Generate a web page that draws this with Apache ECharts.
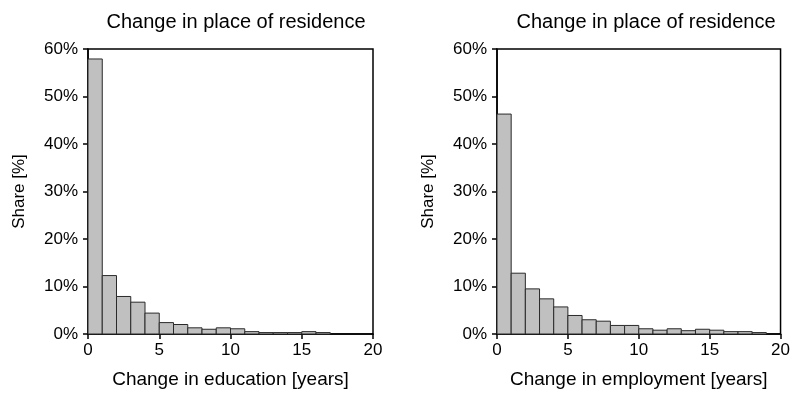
<!DOCTYPE html>
<html>
<head>
<meta charset="utf-8">
<script src="https://cdn.jsdelivr.net/npm/echarts@6/dist/echarts.min.js"></script>
<style>
  html, body { margin: 0; padding: 0; background: #fff; }
  #chart { width: 793px; height: 394px; }
</style>
</head>
<body>
<div id="chart"></div>
<script>
  // share [%] per one-year bin, starting at 0
  var educationShare = [57.9, 12.3, 7.9, 6.7, 4.4, 2.4, 2.0, 1.3, 1.0, 1.3,
    1.1, 0.5, 0.3, 0.3, 0.3, 0.5, 0.3]
  var employmentShare = [46.3, 12.8, 9.5, 7.4, 5.7, 3.9, 3.0, 2.7, 1.8, 1.8,
    1.1, 0.8, 1.1, 0.7, 1.0, 0.8, 0.5, 0.5, 0.3]
  var titles = ['Change in place of residence', 'Change in place of residence']
  var xNames = ['Change in education [years]', 'Change in employment [years]']
  var yName = 'Share [%]'

  var font = 'Liberation Sans, Arial, Helvetica, sans-serif'

  function toBins(values) {
    return values.map(function (v, i) { return [i, i + 1, v] })
  }

  function renderBar(params, api) {
    var p0 = api.coord([api.value(0), api.value(2)])
    var p1 = api.coord([api.value(1), 0])
    return {
      type: 'rect',
      shape: { x: p0[0], y: p0[1], width: p1[0] - p0[0], height: p1[1] - p0[1] },
      style: { fill: '#c0c0c0', stroke: '#2a2a2a', lineWidth: 1 }
    }
  }

  function xAxis(idx) {
    return {
      type: 'value', gridIndex: idx, min: 0, max: 20, interval: 5,
      name: xNames[idx], nameLocation: 'middle', nameGap: 36,
      nameTextStyle: { fontSize: 19, color: '#000', fontFamily: font },
      axisLine: { show: true, lineStyle: { color: '#000', width: 1.5 } },
      axisTick: { show: true, length: 5, lineStyle: { color: '#000', width: 1.5 } },
      axisLabel: { fontSize: 17, color: '#000', margin: 8, fontFamily: font },
      splitLine: { show: false }
    }
  }

  function yAxis(idx) {
    return {
      type: 'value', gridIndex: idx, min: 0, max: 60, interval: 10,
      name: yName, nameLocation: 'middle', nameGap: 60,
      nameTextStyle: { fontSize: 17, color: '#000', fontFamily: font },
      axisLine: { show: true, lineStyle: { color: '#000', width: 1.5 } },
      axisTick: { show: true, length: 5, lineStyle: { color: '#000', width: 1.5 } },
      axisLabel: { fontSize: 17, color: '#000', margin: 10, fontFamily: font, formatter: '{value}%' },
      splitLine: { show: false }
    }
  }

  var chart = echarts.init(document.getElementById('chart'))
  chart.setOption({
    animation: false,
    backgroundColor: '#fff',
    title: [
      { text: titles[0], left: 231, top: 7, textAlign: 'center',
        textStyle: { fontSize: 20, fontWeight: 'normal', color: '#000', fontFamily: font } },
      { text: titles[1], left: 641, top: 7, textAlign: 'center',
        textStyle: { fontSize: 20, fontWeight: 'normal', color: '#000', fontFamily: font } }
    ],
    grid: [
      { left: 88, right: 420, top: 49, bottom: 59, show: true, borderColor: '#000', borderWidth: 1.5 },
      { left: 497, right: 10, top: 49, bottom: 59, show: true, borderColor: '#000', borderWidth: 1.5 }
    ],
    xAxis: [xAxis(0), xAxis(1)],
    yAxis: [yAxis(0), yAxis(1)],
    series: [
      { type: 'custom', xAxisIndex: 0, yAxisIndex: 0, renderItem: renderBar,
        encode: { x: [0, 1], y: 2 }, data: toBins(educationShare) },
      { type: 'custom', xAxisIndex: 1, yAxisIndex: 1, renderItem: renderBar,
        encode: { x: [0, 1], y: 2 }, data: toBins(employmentShare) }
    ]
  })
</script>
</body>
</html>
